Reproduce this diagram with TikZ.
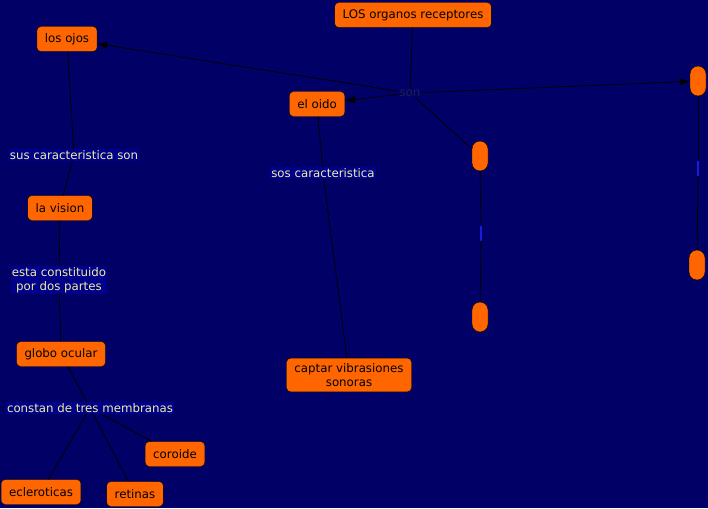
\documentclass[tikz,border=0pt]{standalone}
\usepackage{fontspec}
\setmainfont{DejaVu Sans}
\usepackage{xcolor}
\usepackage{tikz}
\usetikzlibrary{arrows.meta, positioning}
\definecolor{mapbg}{HTML}{000066}
\definecolor{conceptfill}{HTML}{FF6600}
\definecolor{phrasefill}{HTML}{00008A}
\definecolor{phrasetext}{HTML}{EEEE9C}
\definecolor{sontext}{HTML}{20204A}
\definecolor{barblue}{HTML}{1A1AE0}
\tikzset{
  concept/.style={draw=black, fill=conceptfill, rounded corners=4pt, align=center, inner xsep=8pt, inner ysep=3pt, minimum height=25pt},
  blank/.style={draw=black, fill=conceptfill, rounded corners=8pt, minimum width=16pt, minimum height=30pt, inner sep=0pt},
  phrase/.style={fill=phrasefill, text=phrasetext, align=center, inner sep=1pt},
  hub/.style={text=sontext, inner sep=1pt},
  bar/.style={fill=barblue, minimum width=1.2pt, minimum height=15pt, inner sep=0pt},
  link/.style={line width=0.8pt, black},
  arrow/.style={-{Latex[length=3.5mm, width=2.6mm]}, line width=0.8pt, black},
  every node/.style={font=\fontsize{11.8}{14.5}\selectfont}
}
\begin{document}
\begin{tikzpicture}[x=1pt, y=-1pt]
    \fill[mapbg] (0,0) rectangle (708,508);
    \useasboundingbox (0,0) rectangle (708,508);

    % concepts
    \node[concept] (organos) at (413,15) {LOS organos receptores};
    \node[concept] (ojos) at (67,39) {los ojos};
    \node[concept] (oido) at (317,104) {el oido};
    \node[concept] (vision) at (60,208) {la vision};
    \node[concept] (globo) at (61,354) {globo ocular};
    \node[concept] (coroide) at (175,454) {coroide};
    \node[concept] (ecleroticas) at (41,492) {ecleroticas};
    \node[concept] (retinas) at (135,494) {retinas};
    \node[concept, inner ysep=5pt] (captar) at (349,375) {captar vibrasiones\\sonoras};
    \node[blank] (topright) at (698,81) {};
    \node[blank] (midtop) at (480,156) {};
    \node[blank] (midbot) at (480,317) {};
    \node[blank] (botright) at (697,265) {};

    % linking phrases
    \node[hub] (son) at (410,93) {son};
    \node[phrase] (suscar) at (74,155) {sus caracteristica son};
    \node[phrase] (constituido) at (59,280) {esta constituido\\ por dos partes};
    \node[phrase] (constan) at (90,408) {constan de tres membranas};
    \node[phrase] (soscar) at (323,173) {sos caracteristica};
    \node[bar] (midbar) at (481,233) {};
    \node[bar] (rightbar) at (698,168) {};

    \draw[link] (organos) -- (son);
    \draw[arrow] (son) -- (ojos);
    \draw[arrow] (son) -- (oido);
    \draw[arrow] (son) -- (topright);
    \draw[link] (son) -- (midtop);
    \draw[link] (ojos) -- (suscar);
    \draw[link] (suscar) -- (vision);
    \draw[link] (vision) -- (constituido);
    \draw[link] (constituido) -- (globo);
    \draw[link] (globo) -- (constan);
    \draw[link] (constan) -- (coroide);
    \draw[link] (constan) -- (ecleroticas);
    \draw[link] (constan) -- (retinas);
    \draw[link] (oido) -- (soscar);
    \draw[link] (soscar) -- (captar);
    \draw[link] (midtop) -- (midbar);
    \draw[link] (midbar) -- (midbot);
    \draw[link] (topright) -- (rightbar);
    \draw[link] (rightbar) -- (botright);
\end{tikzpicture}
\end{document}
